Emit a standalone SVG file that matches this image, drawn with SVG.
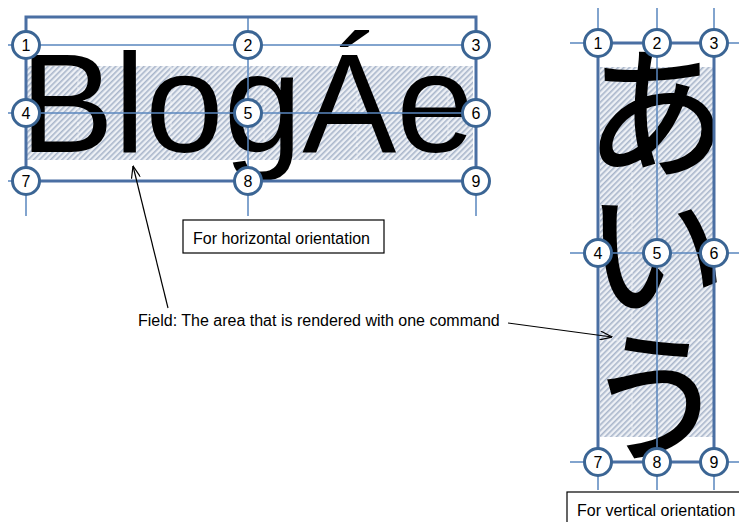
<svg xmlns="http://www.w3.org/2000/svg" width="739" height="522" viewBox="0 0 739 522">
<style>
.thin{stroke:#5a87bf;stroke-width:1.5;fill:none}
.thick{stroke:#4a6fa3;stroke-width:3;fill:none}
.pt circle{fill:#fff;stroke:#3b6594;stroke-width:3}
.pt text{font-family:"Liberation Sans",Arial,sans-serif;font-size:16px;fill:#000;text-anchor:middle}
.lbl{font-family:"Liberation Sans",Arial,sans-serif;font-size:16px;fill:#000}
.box{fill:#fff;stroke:#000;stroke-width:1.2}
.cell{stroke:#fff;stroke-width:1;stroke-dasharray:4 3;opacity:0.7;fill:none}
.conn{stroke:#000;stroke-width:1.2;fill:none}
</style>
<defs>
<pattern id="hatch" width="4" height="4" patternUnits="userSpaceOnUse" patternTransform="rotate(45)">
<rect width="4" height="4" fill="#edf0f5"/>
<rect width="1.6" height="4" fill="#a9b6cb"/>
</pattern>
<marker id="open" viewBox="0 0 13 10" refX="12.5" refY="5" markerWidth="13" markerHeight="10" markerUnits="userSpaceOnUse" orient="auto">
<path d="M0.5,0.5 L12.5,5 L0.5,9.5" fill="none" stroke="#000" stroke-width="1.2"/>
</marker>
</defs>
<rect width="739" height="522" fill="#fff"/>

<g id="horizontal-field">
<rect x="27" y="66" width="446" height="94" fill="url(#hatch)"/>
<path class="cell" d="M78,66V160M171,66V160M264,66V160M357,66V160M448,66V160"/>
<text x="20" y="152" font-family="Liberation Sans,Arial,sans-serif" font-size="141" fill="#000">BlogÁe</text>
<path class="thin" d="M8,45H490M8,113H490M8,181H26M476,181H490M248,17V216M26,181V216M476,181V216"/>
<path class="thick" d="M26,181V17H476V181H26"/>
</g>

<g id="h-points">
<g id="h1" class="pt"><circle cx="26" cy="45" r="13.5"/><text x="26" y="50.5">1</text></g>
<g id="h2" class="pt"><circle cx="248" cy="45" r="13.5"/><text x="248" y="50.5">2</text></g>
<g id="h3" class="pt"><circle cx="476" cy="45" r="13.5"/><text x="476" y="50.5">3</text></g>
<g id="h4" class="pt"><circle cx="26" cy="113" r="13.5"/><text x="26" y="118.5">4</text></g>
<g id="h5" class="pt"><circle cx="248" cy="113" r="13.5"/><text x="248" y="118.5">5</text></g>
<g id="h6" class="pt"><circle cx="476" cy="113" r="13.5"/><text x="476" y="118.5">6</text></g>
<g id="h7" class="pt"><circle cx="26" cy="181" r="13.5"/><text x="26" y="186.5">7</text></g>
<g id="h8" class="pt"><circle cx="248" cy="181" r="13.5"/><text x="248" y="186.5">8</text></g>
<g id="h9" class="pt"><circle cx="476" cy="181" r="13.5"/><text x="476" y="186.5">9</text></g>
</g>

<g id="vertical-field">
<rect x="600" y="67" width="113" height="370" fill="url(#hatch)"/>
<path class="cell" d="M632,67V437M600,340H713"/>
<g font-family="Noto Sans CJK JP,Noto Sans CJK SC,sans-serif" font-size="142" fill="#000" stroke="#000" stroke-width="2.2" text-anchor="middle">
<text x="656" y="166">あ</text>
<text x="656" y="306">い</text>
<text x="656" y="450">う</text>
</g>
<path class="thin" d="M570,43H739M570,253H739M570,462H739M598,8V490M657,8V490M714,8V490"/>
<path class="thick" d="M598,462V43H714V462H598"/>
</g>

<g id="v-points">
<g id="v1" class="pt"><circle cx="598" cy="43" r="13.5"/><text x="598" y="48.5">1</text></g>
<g id="v2" class="pt"><circle cx="657" cy="43" r="13.5"/><text x="657" y="48.5">2</text></g>
<g id="v3" class="pt"><circle cx="714" cy="43" r="13.5"/><text x="714" y="48.5">3</text></g>
<g id="v4" class="pt"><circle cx="598" cy="253" r="13.5"/><text x="598" y="258.5">4</text></g>
<g id="v5" class="pt"><circle cx="657" cy="253" r="13.5"/><text x="657" y="258.5">5</text></g>
<g id="v6" class="pt"><circle cx="714" cy="253" r="13.5"/><text x="714" y="258.5">6</text></g>
<g id="v7" class="pt"><circle cx="598" cy="462" r="13.5"/><text x="598" y="467.5">7</text></g>
<g id="v8" class="pt"><circle cx="657" cy="462" r="13.5"/><text x="657" y="467.5">8</text></g>
<g id="v9" class="pt"><circle cx="714" cy="462" r="13.5"/><text x="714" y="467.5">9</text></g>
</g>

<g id="label-horizontal">
<rect class="box" x="183" y="220" width="201" height="33"/>
<text class="lbl" x="193" y="244">For horizontal orientation</text>
</g>
<g id="label-vertical">
<rect class="box" x="567" y="492" width="180" height="40"/>
<text class="lbl" x="577" y="516">For vertical orientation</text>
</g>
<g id="label-field">
<text class="lbl" x="138" y="326">Field: The area that is rendered with one command</text>
</g>

<g id="connectors">
<line class="conn" x1="168" y1="308" x2="133" y2="166" marker-end="url(#open)"/>
<line class="conn" x1="508" y1="323" x2="612" y2="337" marker-end="url(#open)"/>
</g>
</svg>
